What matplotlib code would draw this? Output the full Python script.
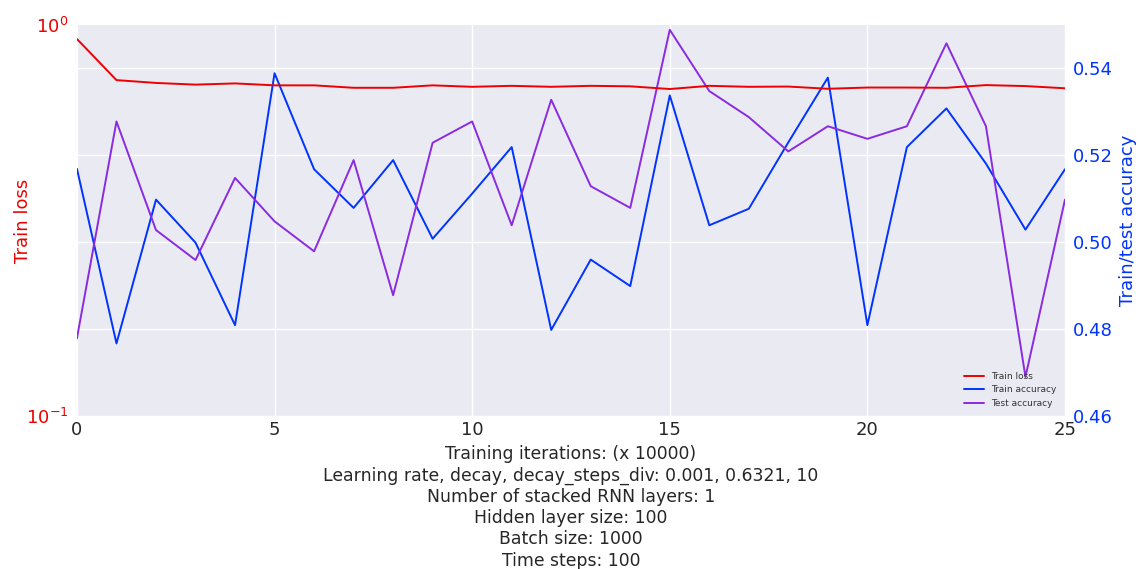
import numpy as np
import matplotlib
matplotlib.use('Agg')
import matplotlib.pyplot as plt
from matplotlib.ticker import NullFormatter, FixedLocator

# Logged values, one per 10000 training iterations
iterations = list(range(26))
train_loss = [0.921, 0.723, 0.711, 0.704, 0.709, 0.701, 0.701, 0.691, 0.691, 0.701,
              0.695, 0.699, 0.695, 0.699, 0.697, 0.686, 0.699, 0.695, 0.696, 0.687,
              0.692, 0.692, 0.691, 0.702, 0.698, 0.689]
train_acc = [0.5169, 0.4767, 0.5098, 0.4999, 0.4809, 0.5389, 0.5168, 0.5079, 0.5189, 0.5008,
             0.5112, 0.5219, 0.4798, 0.4960, 0.4899, 0.5338, 0.5039, 0.5077, 0.5230, 0.5379,
             0.4809, 0.5219, 0.5308, 0.5181, 0.5029, 0.5168]
test_acc = [0.4779, 0.5278, 0.5028, 0.4959, 0.5148, 0.5048, 0.4979, 0.5189, 0.4878, 0.5229,
            0.5278, 0.5039, 0.5328, 0.5129, 0.5079, 0.5489, 0.5348, 0.5288, 0.5209, 0.5267,
            0.5238, 0.5267, 0.5458, 0.5267, 0.4690, 0.5098]
acc_ticks = [0.46, 0.48, 0.50, 0.52, 0.54]

learning_rate, decay, decay_steps_div = 0.001, 0.6321, 10
n_layers, hidden_size, batch_size, time_steps = 1, 100, 1000, 100

plt.style.use('seaborn-v0_8-darkgrid')
plt.rcParams['font.family'] = ['DejaVu Sans']

red = '#ee0000'
blue = '#0033ff'
purple = '#8a2be2'
fs = 13

fig = plt.figure(figsize=(11.4, 5.69), dpi=100)
# accuracy axis carries the grid, loss axis sits on top
ax_acc = fig.add_axes([0.0675, 0.269, 0.8667, 0.687])
ax_loss = ax_acc.twinx()

ax_acc.yaxis.tick_right()
ax_acc.yaxis.set_label_position('right')
ax_loss.yaxis.tick_left()
ax_loss.yaxis.set_label_position('left')

l2, = ax_acc.plot(iterations, train_acc, color=blue, lw=1.4, label='Train accuracy')
l3, = ax_acc.plot(iterations, test_acc, color=purple, lw=1.4, label='Test accuracy')
l1, = ax_loss.plot(iterations, train_loss, color=red, lw=1.4, label='Train loss')

ax_acc.set_xlim(0, 25)
ax_acc.set_ylim(0.46, 0.55)
ax_acc.yaxis.set_major_locator(FixedLocator(acc_ticks))
ax_acc.set_yticklabels([f'{t:.2f}' for t in acc_ticks])
ax_acc.tick_params(axis='y', colors=blue, labelsize=fs, pad=6)
ax_acc.tick_params(axis='x', labelsize=fs, colors='#262626', pad=4)
ax_acc.set_ylabel('Train/test accuracy', color=blue, fontsize=fs, labelpad=4)
ax_acc.grid(True, color='white', lw=1)

ax_loss.set_yscale('log')
ax_loss.set_ylim(0.1, 1.0)
ax_loss.yaxis.set_minor_formatter(NullFormatter())
ax_loss.tick_params(axis='y', which='both', colors=red, labelsize=fs, length=0, pad=6)
ax_loss.set_ylabel('Train loss', color=red, fontsize=fs, labelpad=-4)
ax_loss.grid(False)
ax_loss.set_facecolor('none')

ax_acc.set_xlabel(
    'Training iterations: (x 10000)\n'
    f'Learning rate, decay, decay_steps_div: {learning_rate}, {decay}, {decay_steps_div}\n'
    f'Number of stacked RNN layers: {n_layers}\n'
    f'Hidden layer size: {hidden_size}\n'
    f'Batch size: {batch_size}\n'
    f'Time steps: {time_steps}',
    fontsize=12.4, color='#262626', labelpad=4, linespacing=1.235)

leg = ax_loss.legend(handles=[l1, l2, l3], loc='lower right', fontsize=6.5,
                     frameon=False, handlelength=2.2)
for t in leg.get_texts():
    t.set_color('#333333')

for sp in list(ax_acc.spines.values()) + list(ax_loss.spines.values()):
    sp.set_visible(False)

fig.savefig('out.png', dpi=100)
